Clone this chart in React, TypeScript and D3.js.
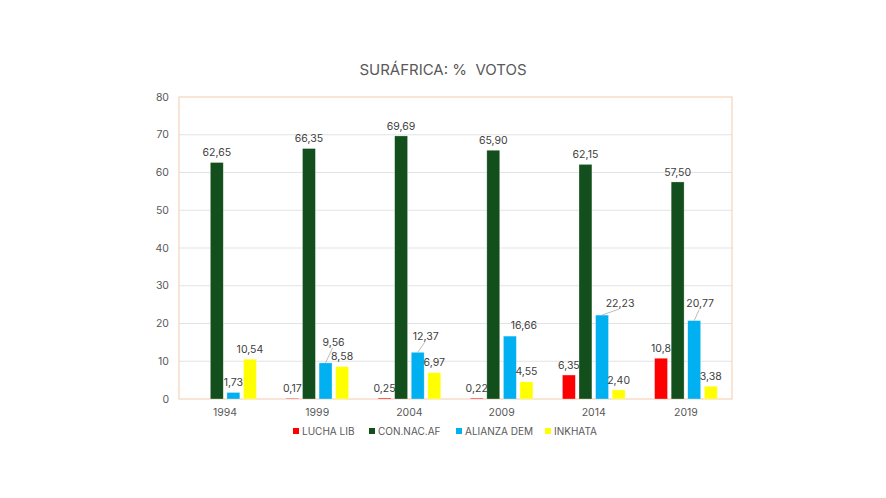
import * as d3 from 'd3';

const years = ['1994', '1999', '2004', '2009', '2014', '2019'];
const seriesNames = ['LUCHA LIB', 'CON.NAC.AF', 'ALIANZA DEM', 'INKHATA'];
const luchaLib: (number | null)[] = [null, 0.17, 0.25, 0.22, 6.35, 10.8];
const conNacAf = [62.65, 66.35, 69.69, 65.9, 62.15, 57.5];
const alianzaDem = [1.73, 9.56, 12.37, 16.66, 22.23, 20.77];
const inkhata = [10.54, 8.58, 6.97, 4.55, 2.4, 3.38];
const labelText: (string | null)[][] = [
  [null, '0,17', '0,25', '0,22', '6,35', '10,8'],
  ['62,65', '66,35', '69,69', '65,90', '62,15', '57,50'],
  ['1,73', '9,56', '12,37', '16,66', '22,23', '20,77'],
  ['10,54', '8,58', '6,97', '4,55', '2,40', '3,38'],
];
const yTicks = [0, 10, 20, 30, 40, 50, 60, 70, 80];

const colors = ['#FF0000', '#124F1C', '#00B0F0', '#FFFF00'];
// moved labels (series, year) -> [dx, dy, leader]
const labelMoves: Record<string, [number, number, boolean]> = {
  '2-1': [8, -11, true],
  '2-2': [8, -6, true],
  '2-3': [14, -1, false],
  '2-4': [18, -2, true],
  '2-5': [6, -7, true],
};

const W = 886;
const H = 498;
const M = { left: 179, right: 886 - 732, top: 97, bottom: 498 - 399 };

export default function App() {
  const allSeries = [luchaLib, conNacAf, alianzaDem, inkhata];
  const x0 = d3.scaleBand().domain(years).range([M.left, W - M.right]);
  const x1 = d3
    .scaleBand()
    .domain(seriesNames)
    .range([x0.bandwidth() * 0.16, x0.bandwidth() * 0.84])
    .paddingInner(0.22);
  const y = d3.scaleLinear().domain([0, 80]).range([H - M.bottom, M.top]);
  const font = 'Inter, "Liberation Sans", Arial, sans-serif';

  return (
    <div style={{ position: 'absolute', left: 0, top: 0 }}>
      <svg width={W} height={H} style={{ display: 'block', background: '#fff' }} fontFamily={font}>
        <text x={443} y={75} textAnchor="middle" fontSize={15} fill="#595959" style={{ whiteSpace: 'pre' }}>
          {'SURÁFRICA: %  VOTOS'}
        </text>
        {yTicks.map((t) => (
          <g key={t}>
            {t > 0 && t < 80 && (
              <line x1={M.left} x2={W - M.right} y1={y(t)} y2={y(t)} stroke="#E3E3E3" strokeWidth={1} />
            )}
            <text x={M.left - 10} y={y(t)} dy="0.35em" textAnchor="end" fontSize={10.5} fill="#595959">
              {t}
            </text>
          </g>
        ))}
        <rect
          x={M.left}
          y={M.top}
          width={W - M.right - M.left}
          height={H - M.bottom - M.top}
          fill="none"
          stroke="#F4C9AE"
          strokeWidth={1}
        />
        {years.map((yr, i) => (
          <g key={yr} transform={`translate(${x0(yr)},0)`}>
            {allSeries.map((s, k) => {
              const v = s[i];
              if (v == null) return null;
              const bx = x1(seriesNames[k])!;
              const bw = x1.bandwidth();
              return (
                <rect
                  key={k}
                  x={bx}
                  y={y(v)}
                  width={bw}
                  height={y(0) - y(v)}
                  fill={colors[k]}
                  stroke="#ffffff"
                  strokeOpacity={0.5}
                  strokeWidth={0.6}
                />
              );
            })}
            <text
              x={x0.bandwidth() / 2}
              y={H - M.bottom + 17}
              textAnchor="middle"
              fontSize={10.5}
              fill="#595959"
            >
              {yr}
            </text>
          </g>
        ))}
        {years.map((yr, i) =>
          allSeries.map((s, k) => {
            const v = s[i];
            const txt = labelText[k][i];
            if (v == null || txt == null) return null;
            const cx = x0(yr)! + x1(seriesNames[k])! + x1.bandwidth() / 2;
            const top = y(v);
            const mv = labelMoves[`${k}-${i}`] || [0, 0, false];
            const lx = cx + mv[0];
            const ly = top - 10 + mv[1];
            return (
              <g key={`${k}-${i}`}>
                {mv[2] && (
                  <line x1={cx} y1={top} x2={lx - 1} y2={ly + 6} stroke="#A6A6A6" strokeWidth={0.75} />
                )}
                <text x={lx} y={ly} dy="0.35em" textAnchor="middle" fontSize={10.5} fill="#404040">
                  {txt}
                </text>
              </g>
            );
          })
        )}
        {seriesNames.map((n, k) => {
          const lx = [293, 369, 456, 545][k];
          return (
            <g key={n} transform={`translate(${lx},431)`}>
              <rect x={0} y={-3} width={6} height={6} fill={colors[k]} />
              <text x={9} y={0} dy="0.35em" fontSize={10} fill="#595959">
                {n}
              </text>
            </g>
          );
        })}
      </svg>
    </div>
  );
}
